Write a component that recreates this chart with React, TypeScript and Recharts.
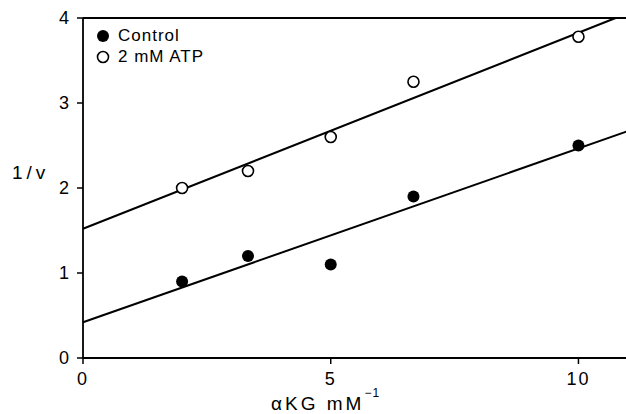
import React from 'react';
import { ScatterChart, Scatter, XAxis, YAxis, ReferenceLine, Legend, Label } from 'recharts';

const xValues = [2, 3.33, 5, 6.67, 10];
const controlY = [0.9, 1.2, 1.1, 1.9, 2.5];
const atpY = [2.0, 2.2, 2.6, 3.25, 3.78];
const controlFit = [{ x: 0, y: 0.42 }, { x: 11, y: 2.67 }];
const atpFit = [{ x: 0, y: 1.52 }, { x: 10.75, y: 4 }];
const xTicks = [0, 5, 10];
const yTicks = [0, 1, 2, 3, 4];
const seriesNames = ['Control', '2 mM ATP'];

const controlData = xValues.map((x, i) => ({ x, y: controlY[i] }));
const atpData = xValues.map((x, i) => ({ x, y: atpY[i] }));

const FONT = '"Liberation Sans", Arial, Helvetica, sans-serif';

const FilledDot = (p: any) => <circle cx={p.cx} cy={p.cy} r={6} fill="#000" />;
const OpenDot = (p: any) => (
  <circle cx={p.cx} cy={p.cy} r={5.5} fill="#fff" stroke="#000" strokeWidth={1.6} />
);

const LegendBox = () => (
  <div style={{ fontFamily: FONT, fontSize: 17, color: '#000', lineHeight: '21px', letterSpacing: 1, whiteSpace: 'nowrap' }}>
    <div style={{ display: 'flex', alignItems: 'center' }}>
      <svg width={14} height={14} style={{ marginRight: 8 }}>
        <circle cx={7} cy={7} r={6} fill="#000" />
      </svg>
      <span>{seriesNames[0]}</span>
    </div>
    <div style={{ display: 'flex', alignItems: 'center' }}>
      <svg width={14} height={14} style={{ marginRight: 8 }}>
        <circle cx={7} cy={7} r={5.5} fill="#fff" stroke="#000" strokeWidth={1.6} />
      </svg>
      <span>{seriesNames[1]}</span>
    </div>
  </div>
);

const XLabel = () => (
  <text x={271} y={410} fontFamily={FONT} fontSize={19} fill="#000" letterSpacing={3}>
    <tspan>αKG mM</tspan>
    <tspan dy={-13} fontSize={12} letterSpacing={1}>−1</tspan>
  </text>
);

const YLabel = () => (
  <text x={12} y={179} fontFamily={FONT} fontSize={19} fill="#000" letterSpacing={4}>
    1/v
  </text>
);

export default function App() {
  return (
    <div style={{ position: 'absolute', left: 0, top: 0, width: 626, height: 414, overflow: 'hidden', background: '#fff' }}>
      <ScatterChart width={628} height={414} margin={{ top: 18, right: 0, bottom: 0, left: 0 }}>
        <XAxis
          type="number"
          dataKey="x"
          domain={[0, 11]}
          ticks={xTicks}
          height={56}
          axisLine={{ stroke: '#000', strokeWidth: 1.8 }}
          tickLine={{ stroke: '#000', strokeWidth: 1.5 }}
          tickSize={6}
          tickMargin={8}
          tick={{ fill: '#000', fontSize: 18, fontFamily: FONT, letterSpacing: 2 }}
          allowDataOverflow
        >
          <Label content={<XLabel />} />
        </XAxis>
        <YAxis
          type="number"
          dataKey="y"
          domain={[0, 4]}
          ticks={yTicks}
          width={83}
          axisLine={{ stroke: '#000', strokeWidth: 1.8 }}
          tickLine={{ stroke: '#000', strokeWidth: 1.5 }}
          tickSize={6}
          tickMargin={8}
          tick={{ fill: '#000', fontSize: 18, fontFamily: FONT }}
          allowDataOverflow
        >
          <Label content={<YLabel />} />
        </YAxis>
        <ReferenceLine y={4} stroke="#000" strokeWidth={1.8} />
        <ReferenceLine segment={controlFit} stroke="#000" strokeWidth={2} ifOverflow="visible" />
        <ReferenceLine segment={atpFit} stroke="#000" strokeWidth={2} ifOverflow="visible" />
        <Scatter name={seriesNames[0]} data={controlData} shape={FilledDot} isAnimationActive={false} />
        <Scatter name={seriesNames[1]} data={atpData} shape={OpenDot} isAnimationActive={false} />
        <Legend
          content={<LegendBox />}
          layout="vertical"
          align="center"
          verticalAlign="middle"
          wrapperStyle={{ position: 'absolute', left: 96, top: 25, width: 'auto', height: 'auto' }}
        />
      </ScatterChart>
    </div>
  );
}
